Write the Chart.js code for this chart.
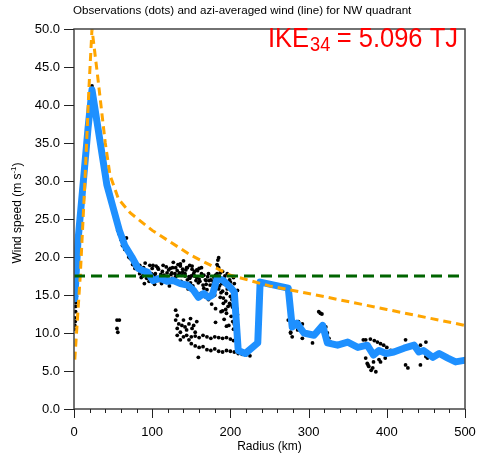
<!DOCTYPE html>
<html>
<head>
<meta charset="utf-8">
<script src="https://cdn.jsdelivr.net/npm/chart.js@4.4.1/dist/chart.umd.min.js"></script>
<style>
  html, body { margin: 0; padding: 0; background: #fff; }
  canvas { display: block; }
</style>
</head>
<body>
<canvas id="chart" width="481" height="461"></canvas>
<script>
// azimuthally averaged wind (blue line)
const aziR = [1, 5, 12, 18, 23, 42, 50, 58, 65, 74, 82, 88, 94, 101, 110, 119, 127, 136, 145, 153, 159, 166, 172, 177, 183, 191, 200, 205, 210, 219, 235, 238, 256, 274, 279, 285, 294, 307, 318, 324, 337, 350, 363, 375, 383, 390, 399, 409, 422, 435, 441, 447, 459, 467, 478, 488, 499];
const aziV = [14.5, 22, 30, 37, 42, 29.5, 26.5, 23.5, 21.5, 20, 18.5, 18.2, 18, 16.9, 17.2, 16.8, 16.9, 16.5, 16.3, 15.6, 14.7, 15.2, 14.7, 15, 17.2, 16.9, 16, 15.4, 7.7, 7.3, 8.7, 16.7, 16.3, 15.9, 10.8, 11.3, 10, 9.7, 11, 8.7, 8.4, 8.8, 8.1, 8.4, 7.1, 7.7, 7.3, 7.5, 8, 8.4, 7.5, 7.7, 6.8, 7.3, 6.7, 6.2, 6.4];

// parametric profile (orange dashed)
const profR = [1, 8, 14, 19, 23, 30, 40, 46, 57, 72, 100, 150, 200, 250, 300, 400, 500];
const profV = [6.5, 17.5, 30, 42, 50, 44, 35, 30.8, 27.6, 25.8, 23.5, 20.2, 17.6, 16.2, 15.2, 13.1, 11.0];

// 34-kt threshold (green dashed)
const threshR = [0, 500];
const threshV = [17.5, 17.5];

// observations (black dots), grouped by region
const coreR = [0.5, 1, 1, 1.5, 2, 2, 2.5, 3, 3.5, 4, 8, 14, 20, 22, 23, 24, 26, 28, 32, 36, 40, 45, 50, 54, 56, 58, 60, 62, 55, 58, 55, 56];
const coreV = [10.5, 11, 12, 11.5, 12.8, 13.5, 14, 14.8, 15.5, 16.5, 24, 31, 39, 41, 42.5, 41.8, 40, 38, 35, 32.5, 30.5, 28, 26.5, 25, 23.5, 23, 22.3, 21.5, 11.7, 11.7, 10.6, 10.1];

const bandR = [65, 67, 70, 72, 75, 78, 80, 84, 88, 90, 93, 96, 99, 100, 103, 106, 108, 110, 112, 115, 118, 120, 122, 125, 127, 128, 130, 132, 134, 136, 138, 140, 141, 143, 145, 146, 148, 150, 152, 154, 155, 157, 159, 160, 162, 163, 165, 167, 168, 170, 172, 173, 175, 176, 178, 180, 181, 183, 184, 185, 186, 187, 188, 189, 190, 191, 192, 193, 194, 195, 196, 197, 198, 199, 200, 201, 202, 203, 204, 205, 206, 207, 208, 209];
const bandV = [21, 22.5, 20, 19.8, 19, 18.5, 19, 17.8, 17.5, 16.5, 17.2, 16.8, 17.8, 18.5, 16.4, 17.3, 18.4, 17, 16.5, 17.6, 18.7, 17.1, 16.2, 17.9, 19.3, 16.8, 17.4, 18.2, 16.5, 18.8, 17.6, 19.5, 16.4, 18.3, 17, 15.8, 18.9, 17.5, 16.2, 18.1, 15.5, 17.3, 16.6, 18.5, 15.2, 17.8, 16.3, 14.8, 17, 15.7, 14.4, 16.9, 15.1, 13.8, 16.4, 15, 13.2, 17.8, 19.6, 18.6, 16.2, 14.7, 12.8, 17.2, 15.5, 13.9, 11.8, 16.4, 14.2, 12.6, 15.8, 13.5, 11, 17, 14.8, 12.2, 16, 13.4, 10.5, 15.2, 12.8, 14.1, 11.6, 15.6];

const band2R = [95, 102, 105, 109, 113, 117, 121, 124, 126, 129, 131, 133, 135, 137, 139, 142, 144, 147, 149, 151, 153, 156, 158, 161, 164, 166, 169, 171, 174, 177, 179, 182, 184, 186, 188, 190, 192, 194, 196, 198, 200, 202, 204, 206, 208];
const band2V = [18, 17.6, 18.8, 16.9, 18.1, 17.4, 18.3, 17.7, 18.6, 17.8, 16.9, 19, 17.9, 16.8, 18, 17.5, 18.6, 17.4, 16.6, 18.4, 17.8, 16.9, 18.2, 16.8, 17.5, 15.9, 16.4, 17.4, 16.3, 15.4, 17.3, 16.2, 18.7, 17.4, 15.3, 18.1, 16.9, 13.1, 17.8, 15.9, 16.7, 14.4, 17.3, 14, 13.2];

const band3R = [84, 86, 89, 91, 97, 98, 101, 104, 107, 111, 114, 116, 119, 123, 126, 130, 133, 136, 139, 142, 145, 148, 151, 154, 157, 160, 163, 166, 169, 172, 175, 178, 181, 183, 185, 187, 189, 191, 193, 195, 197, 199, 201, 203, 205, 207, 209, 185, 190, 195, 200, 205];
const band3V = [18.9, 17.3, 18.6, 19.2, 18.9, 17.4, 18.9, 17.8, 18.6, 17.7, 18.9, 16.9, 17.9, 18.5, 17.2, 18.6, 17.6, 19.1, 18.4, 17.8, 18.6, 17.2, 18.8, 17.5, 18.3, 17.1, 18.6, 17.6, 16.9, 17.8, 17, 16.8, 17.6, 19, 19.9, 17.9, 16.5, 14.6, 17.5, 15.2, 16.7, 13.9, 15.9, 11.5, 16.5, 13.6, 12.4, 15.8, 12.9, 10.9, 13.7, 11.2];

const lowR = [130, 132, 130, 134, 132, 136, 138, 140, 142, 144, 147, 149, 151, 153, 155, 157, 132, 136, 140, 144, 147, 159, 181,
              150, 155, 160, 165, 170, 175, 180, 185, 190, 195, 200, 204,
              150, 155, 160, 165, 170, 175, 180, 185, 190, 195, 200, 205, 210, 215, 220, 225];
const lowV = [13, 12.3, 11.7, 11.2, 10.6, 10.1, 11, 11.7, 10.8, 10.4, 11.2, 11.9, 10.6, 11, 10.1, 11.5, 9.7, 9.1, 9.5, 9.7, 9.1, 6.8, 11.4,
              9.5, 9.6, 9.4, 9.7, 9.5, 9.3, 9.5, 9.4, 9.3, 9.4, 9.2, 9.0,
              8.6, 8.3, 8.1, 8.2, 7.8, 7.7, 7.9, 7.6, 7.5, 7.7, 7.6, 7.5, 7.3, 7.2, 7.1, 7.0];

const outerR = [274, 277, 281, 286, 277, 279, 287, 292, 292, 305, 313, 317, 322, 324, 326, 328, 315,
                370, 373, 379, 384, 388, 392, 396, 400, 405, 373, 375, 377, 382, 386, 376, 380, 392, 424, 427, 424, 443, 450, 443, 450, 452, 383, 390, 398];
const outerV = [11.7, 10.1, 11.3, 10.4, 10, 9.5, 11.5, 11.2, 9.3, 8.7, 12.8, 12.5, 10.8, 10, 9.3, 8.8, 12.6,
                9.1, 9.1, 9.2, 9, 8.8, 8.6, 8.4, 8.1, 7.7, 6.7, 6, 5.6, 5.4, 4.9, 5.8, 5.1, 6.2, 9.1, 5.4, 5.8, 5.8, 6.9, 8.4, 8.8, 6.7, 6.2, 6.5, 6.7];

const FONT = '"Liberation Sans", Arial, Helvetica, sans-serif';

function pts(rs, vs) { return rs.map((r, i) => ({ x: r, y: vs[i] })); }

const obs = [].concat(pts(coreR, coreV), pts(bandR, bandV), pts(band2R, band2V),
                      pts(band3R, band3V), pts(lowR, lowV), pts(outerR, outerV));

// frame, tick marks and all the text around the plot
const decor = {
  id: 'decor',
  afterDatasetsDraw(chart) {
    const { ctx, chartArea: a, scales: { x, y } } = chart;
    ctx.save();
    ctx.strokeStyle = '#444';
    ctx.lineWidth = 1.5;
    ctx.strokeRect(a.left, a.top, a.right - a.left, a.bottom - a.top);
    ctx.lineWidth = 1;
    ctx.strokeStyle = '#222';
    ctx.beginPath();
    y.ticks.forEach(t => {
      const py = Math.round(y.getPixelForValue(t.value)) + 0.5;
      ctx.moveTo(a.left - 10, py); ctx.lineTo(a.left, py);
    });
    for (let v = 0; v <= 500; v += 20) {
      const px = Math.round(x.getPixelForValue(v)) + 0.5;
      const len = v % 100 === 0 ? 9 : 4;
      ctx.moveTo(px, a.bottom); ctx.lineTo(px, a.bottom + len);
    }
    ctx.stroke();
    ctx.restore();
  },
  afterDraw(chart) {
    const { ctx, chartArea: a } = chart;
    ctx.save();
    ctx.fillStyle = '#000';
    ctx.textBaseline = 'alphabetic';

    // title
    ctx.font = '11.6px ' + FONT;
    ctx.textAlign = 'left';
    ctx.fillText('Observations (dots) and azi-averaged wind (line) for NW quadrant', 73, 14);

    // x label
    ctx.font = '12px ' + FONT;
    ctx.textAlign = 'center';
    ctx.fillText('Radius (km)', (a.left + a.right) / 2, 450);

    // y label with superscript
    ctx.save();
    ctx.translate(21, 213);
    ctx.rotate(-Math.PI / 2);
    ctx.textAlign = 'left';
    ctx.font = '12px ' + FONT;
    const p1 = 'Wind speed (m s', p3 = ')';
    const w1 = ctx.measureText(p1).width, w3 = ctx.measureText(p3).width;
    ctx.font = '8px ' + FONT;
    const w2 = ctx.measureText('-1').width;
    let sx = -(w1 + w2 + w3) / 2;
    ctx.font = '12px ' + FONT;
    ctx.fillText(p1, sx, 0);
    ctx.font = '8px ' + FONT;
    ctx.fillText('-1', sx + w1, -5);
    ctx.font = '12px ' + FONT;
    ctx.fillText(p3, sx + w1 + w2, 0);
    ctx.restore();

    // IKE annotation
    const big = '28px ' + FONT, small = '20px ' + FONT;
    ctx.font = big;
    const i1 = ctx.measureText('IKE').width, i3 = ctx.measureText('= 5.096 TJ').width;
    ctx.font = small;
    const i2 = ctx.measureText('34').width;
    const gap = 7;
    const scale = 190 / (i1 + 1 + i2 + gap + i3);
    ctx.translate(268, 47);
    ctx.scale(scale, 1);
    ctx.fillStyle = '#ff0000';
    ctx.textAlign = 'left';
    ctx.font = big;
    ctx.fillText('IKE', 0, 0);
    ctx.font = small;
    ctx.fillText('34', i1 + 1, 4);
    ctx.font = big;
    ctx.fillText('= 5.096 TJ', i1 + 1 + i2 + gap, 0);
    ctx.restore();
  }
};

new Chart(document.getElementById('chart'), {
  type: 'scatter',
  data: {
    datasets: [
      {
        label: 'Threshold',
        data: pts(threshR, threshV),
        showLine: true,
        borderColor: '#006400',
        borderWidth: 3,
        borderDash: [11, 6],
        pointRadius: 0,
        order: 1
      },
      {
        label: 'Profile',
        data: pts(profR, profV),
        showLine: true,
        borderColor: '#ffa500',
        borderWidth: 3,
        borderDash: [8, 5],
        pointRadius: 0,
        order: 2
      },
      {
        label: 'Azi-averaged',
        data: pts(aziR, aziV),
        showLine: true,
        borderColor: '#1e90ff',
        borderWidth: 7,
        borderJoinStyle: 'round',
        borderCapStyle: 'round',
        pointRadius: 0,
        order: 3
      },
      {
        label: 'Observations',
        data: obs,
        backgroundColor: '#000',
        borderWidth: 0,
        pointRadius: 1.9,
        order: 4
      }
    ]
  },
  options: {
    responsive: false,
    devicePixelRatio: 1,
    animation: false,
    layout: { padding: { top: 29, right: 16, left: 0, bottom: 0 } },
    plugins: { legend: { display: false }, tooltip: { enabled: false } },
    scales: {
      x: {
        type: 'linear', min: 0, max: 500,
        grid: { display: false, drawTicks: false },
        border: { display: false },
        ticks: { stepSize: 100, padding: 16, color: '#000', font: { family: FONT, size: 13 }, maxRotation: 0 },
        afterFit(scale) { scale.height = 52; scale.paddingLeft = 0; scale.paddingRight = 0; }
      },
      y: {
        min: 0, max: 50,
        grid: { display: false, drawTicks: false },
        border: { display: false },
        ticks: { stepSize: 5, padding: 14, color: '#000', font: { family: FONT, size: 13 },
                 callback: v => v.toFixed(1) },
        afterFit(scale) { scale.width = 74; scale.paddingTop = 0; scale.paddingBottom = 0; }
      }
    }
  },
  plugins: [decor]
});
</script>
</body>
</html>
